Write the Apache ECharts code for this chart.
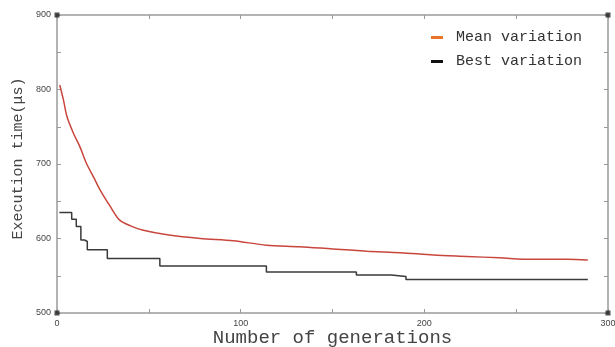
<!DOCTYPE html>
<html>
<head>
<meta charset="utf-8">
<script src="https://cdn.jsdelivr.net/npm/echarts@6/dist/echarts.min.js"></script>
<style>
html, body { margin: 0; padding: 0; background: #fff; }
#chart { width: 615px; height: 347px; }
</style>
</head>
<body>
<div id="chart"></div>
<script>
// values
var meanGen  = [1.5, 3.5, 5.5, 9, 12.5, 16, 20, 23.5, 29, 34, 40, 47, 60, 78, 96, 114, 132, 150, 169, 187, 205, 223, 241, 259, 278, 289];
var meanTime = [806, 786, 763, 741, 723, 701, 682, 665, 643, 625, 617, 611, 605, 600, 597, 591, 589, 586, 583, 581, 578, 576, 574, 572, 572, 571];
var bestGen  = [1.3, 8, 10.5, 13, 15, 16.5, 27.4, 56, 114, 163, 182, 190, 289];
var bestTime = [635, 626, 616, 598, 596, 585, 573, 563, 555, 551, 549, 545, 545];
var corners = [[0, 900], [300, 900], [0, 500], [300, 500]];

function pairs(xs, ys) {
    return xs.map(function (x, i) { return [x, ys[i]]; });
}

var axisGray = '#9a9a9a';
var monoFont = 'Liberation Mono';

// labels only every 100, ticks every 50
function every100(v) {
    return v % 100 === 0 ? String(v) : '';
}

function frameAxis(extra) {
    var a = {
        type: 'value',
        axisLine: { show: true, onZero: false, lineStyle: { color: axisGray, width: 1.5 } },
        axisTick: { show: true, inside: true, length: 4, lineStyle: { color: axisGray } },
        axisLabel: { fontFamily: 'Liberation Sans', fontSize: 9, color: '#444', margin: 6, formatter: every100 },
        splitLine: { show: false },
        nameMoveOverlap: false
    };
    for (var k in extra) a[k] = extra[k];
    return a;
}

var myChart = echarts.init(document.getElementById('chart'));
var option = {
    animation: false,
    grid: { left: 57, right: 7, top: 15, bottom: 34, containLabel: false, outerBoundsMode: 'none' },
    legend: {
        data: [
            { name: 'Mean variation', itemStyle: { color: '#e8742a' } },
            { name: 'Best variation', itemStyle: { color: '#111' } }
        ],
        orient: 'vertical',
        left: 426,
        top: 25,
        icon: 'rect',
        itemWidth: 12,
        itemHeight: 3,
        itemGap: 9,
        textStyle: { fontFamily: monoFont, fontSize: 15, color: '#333', padding: [0, 0, 0, 8] }
    },
    xAxis: [
        frameAxis({
            min: 0, max: 300, interval: 50,
            name: 'Number of generations', nameLocation: 'middle', nameGap: 15,
            nameTextStyle: { fontFamily: monoFont, fontSize: 19, color: '#444' }
        }),
        frameAxis({ min: 0, max: 300, interval: 50, position: 'top', axisLabel: { show: false } })
    ],
    yAxis: [
        frameAxis({
            min: 500, max: 900, interval: 50,
            name: 'Execution time(\u03bcs)', nameLocation: 'middle', nameGap: 31,
            nameTextStyle: { fontFamily: monoFont, fontSize: 15, color: '#444', padding: [0, 0, 0, 11] }
        }),
        frameAxis({ min: 500, max: 900, interval: 50, position: 'right', axisLabel: { show: false } })
    ],
    series: [{
        name: 'Mean variation',
        type: 'line',
        data: pairs(meanGen, meanTime),
        showSymbol: false,
        smooth: 0.3,
        lineStyle: { color: '#c9463d', width: 1.5 },
        itemStyle: { color: '#c9463d' }
    }, {
        name: 'Best variation',
        type: 'line',
        step: 'end',
        data: pairs(bestGen, bestTime),
        showSymbol: false,
        lineStyle: { color: '#3a3a3a', width: 1.5 },
        itemStyle: { color: '#3a3a3a' }
    }, {
        name: 'corners',
        type: 'scatter',
        data: corners,
        symbol: 'rect',
        symbolSize: 5,
        silent: true,
        clip: false,
        itemStyle: { color: '#222' }
    }]
};
myChart.setOption(option);
</script>
</body>
</html>
